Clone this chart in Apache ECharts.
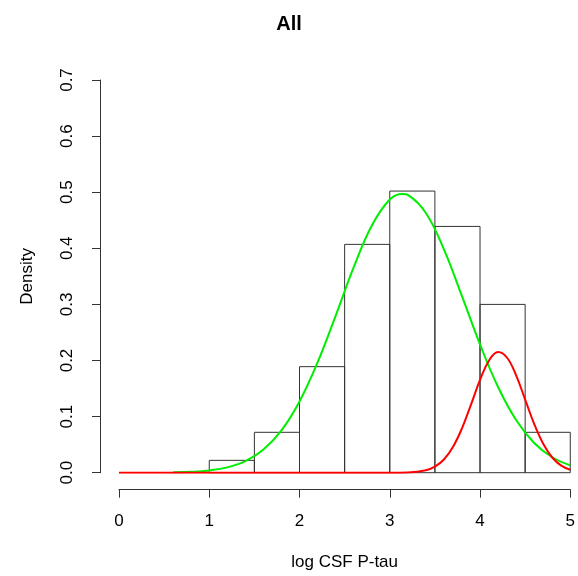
<!DOCTYPE html>
<html>
<head>
<meta charset="utf-8">
<script src="https://cdn.jsdelivr.net/npm/echarts@6/dist/echarts.min.js"></script>
<style>
html,body{margin:0;padding:0;background:#fff;}
#chart{width:578px;height:576px;}
</style>
</head>
<body>
<div id="chart"></div>
<script>
// Histogram bins (left edge, right edge) and densities
const binStart = [1.0, 1.5, 2.0, 2.5, 3.0, 3.5, 4.0, 4.5];
const binEnd   = [1.5, 2.0, 2.5, 3.0, 3.5, 4.0, 4.5, 5.0];
const binDensity = [0.022, 0.072, 0.189, 0.407, 0.502, 0.439, 0.300, 0.072];

// Green curve
const greenX = [0.6, 0.8, 1.0, 1.2, 1.4, 1.6, 1.8, 2.0, 2.2, 2.4, 2.6, 2.8, 3.0, 3.14, 3.2, 3.4, 3.6, 3.8, 4.0, 4.2, 4.4, 4.6, 4.8, 5.0];
const greenY = [0.0006, 0.0016, 0.0041, 0.0095, 0.0207, 0.0412, 0.0754, 0.127, 0.1965, 0.2797, 0.3659, 0.4402, 0.4869, 0.497, 0.4951, 0.4630, 0.3980, 0.3146, 0.2286, 0.1527, 0.0938, 0.0530, 0.0275, 0.0131];

// Red curve
const redX = [0.0, 1.0, 2.0, 3.0, 3.2, 3.4, 3.5, 3.6, 3.7, 3.8, 3.9, 4.0, 4.1, 4.2, 4.3, 4.4, 4.5, 4.6, 4.7, 4.8, 4.9, 5.0];
const redY = [0.0, 0.0, 0.0, 0.0, 0.0005, 0.0043, 0.0107, 0.0235, 0.0458, 0.0791, 0.1214, 0.1654, 0.2001, 0.215, 0.2049, 0.1735, 0.1304, 0.0870, 0.0516, 0.0271, 0.0127, 0.0053];

const xTicks = [0, 1, 2, 3, 4, 5];
const yTicks = [0.0, 0.1, 0.2, 0.3, 0.4, 0.5, 0.6, 0.7];

const titleText = 'All';
const xName = 'log CSF P-tau';
const yName = 'Density';

const histData = binStart.map((s, i) => [s, binEnd[i], binDensity[i]]);
const greenData = greenX.map((x, i) => [x, greenY[i]]);
const redData = redX.map((x, i) => [x, redY[i]]);

const chart = echarts.init(document.getElementById('chart'), null, {renderer: 'canvas'});
const font = 'Liberation Sans, Arial, sans-serif';
const axisColor = '#333';

chart.setOption({
  animation: false,
  backgroundColor: '#fff',
  title: {
    text: titleText,
    left: 'center',
    top: 9,
    textStyle: {fontFamily: font, fontSize: 20, fontWeight: 'bold', color: '#000'}
  },
  grid: {left: 119, right: 5, top: 80, bottom: 103.3, containLabel: false},
  xAxis: {
    type: 'value',
    min: xTicks[0], max: xTicks[xTicks.length - 1], interval: 1,
    offset: 17,
    name: xName,
    nameLocation: 'middle',
    nameGap: 64,
    nameTextStyle: {fontFamily: font, fontSize: 17, color: '#000'},
    axisLine: {show: true, onZero: false, lineStyle: {color: axisColor, width: 1}},
    axisTick: {show: true, length: 8, lineStyle: {color: axisColor}},
    axisLabel: {fontFamily: font, fontSize: 17, color: '#000', margin: 23, showMinLabel: true, showMaxLabel: true},
    splitLine: {show: false}
  },
  yAxis: {
    type: 'value',
    min: yTicks[0], max: yTicks[yTicks.length - 1], interval: 0.1,
    offset: 19,
    name: yName,
    nameLocation: 'middle',
    nameGap: 64,
    nameRotate: 90,
    nameTextStyle: {fontFamily: font, fontSize: 17, color: '#000'},
    axisLine: {show: true, onZero: false, lineStyle: {color: axisColor, width: 1}},
    axisTick: {show: true, length: 8, lineStyle: {color: axisColor}},
    axisLabel: {fontFamily: font, fontSize: 17, color: '#000', margin: 24, rotate: 90,
      formatter: v => v.toFixed(1)},
    splitLine: {show: false}
  },
  series: [
    {
      type: 'custom',
      data: histData,
      encode: {x: [0, 1], y: 2},
      renderItem: function (params, api) {
        const p1 = api.coord([api.value(0), api.value(2)]);
        const p2 = api.coord([api.value(1), 0]);
        return {
          type: 'rect',
          shape: {x: p1[0], y: p1[1], width: p2[0] - p1[0], height: p2[1] - p1[1]},
          style: {fill: 'none', stroke: '#333', lineWidth: 1}
        };
      },
      z: 1
    },
    {
      type: 'line',
      data: greenData,
      smooth: 0.4,
      showSymbol: false,
      lineStyle: {color: '#00ee00', width: 2},
      z: 2
    },
    {
      type: 'line',
      data: redData,
      smooth: 0.4,
      showSymbol: false,
      lineStyle: {color: '#ff0000', width: 2},
      z: 3
    }
  ]
});
</script>
</body>
</html>
